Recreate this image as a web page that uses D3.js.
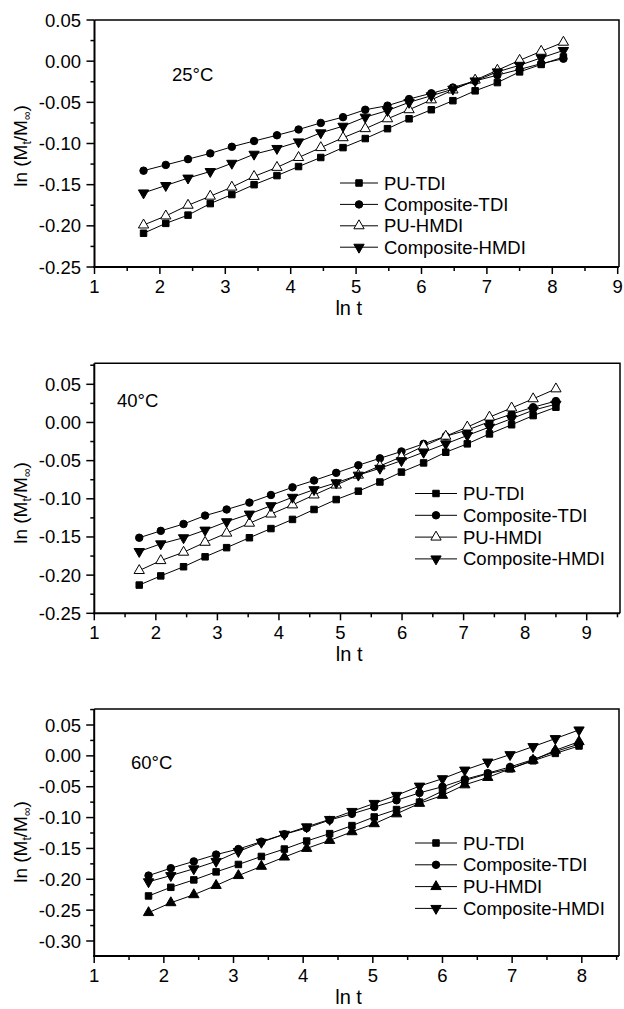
<!DOCTYPE html>
<html>
<head>
<meta charset="utf-8">
<script src="https://cdn.jsdelivr.net/npm/d3@7/dist/d3.min.js"></script>
<style>
  body { margin: 0; background: #fff; }
  text { font-family: "Liberation Sans", Arial, sans-serif; fill: #000; }
</style>
</head>
<body>
<svg id="canvas" width="624" height="1009"></svg>
<script>
// series names and legend order
const seriesNames = ["PU-TDI", "Composite-TDI", "PU-HMDI", "Composite-HMDI"];

// 25°C
const lnT25 = [1.75, 2.09, 2.43, 2.77, 3.10, 3.44, 3.79, 4.12, 4.46, 4.80, 5.14, 5.48, 5.81, 6.15, 6.48, 6.82, 7.16, 7.50, 7.83, 8.17];
const puTdi25 = [-0.209, -0.197, -0.187, -0.173, -0.162, -0.150, -0.139, -0.128, -0.117, -0.105, -0.094, -0.082, -0.070, -0.059, -0.048, -0.036, -0.026, -0.013, -0.004, 0.005];
const compTdi25 = [-0.133, -0.126, -0.119, -0.112, -0.104, -0.097, -0.090, -0.083, -0.075, -0.068, -0.059, -0.054, -0.046, -0.039, -0.032, -0.024, -0.017, -0.010, -0.003, 0.003];
const puHmdi25 = [-0.199, -0.188, -0.175, -0.164, -0.153, -0.140, -0.129, -0.117, -0.105, -0.093, -0.082, -0.070, -0.059, -0.047, -0.035, -0.023, -0.011, 0.001, 0.012, 0.023];
const compHmdi25 = [-0.160, -0.151, -0.142, -0.134, -0.124, -0.113, -0.106, -0.098, -0.087, -0.079, -0.068, -0.060, -0.050, -0.042, -0.034, -0.024, -0.013, -0.005, 0.004, 0.013];

// 40°C
const lnT40 = [1.73, 2.08, 2.45, 2.80, 3.15, 3.52, 3.87, 4.22, 4.57, 4.93, 5.29, 5.64, 5.99, 6.35, 6.71, 7.06, 7.42, 7.78, 8.13, 8.50];
const puTdi40 = [-0.213, -0.201, -0.189, -0.176, -0.164, -0.151, -0.139, -0.127, -0.114, -0.101, -0.090, -0.078, -0.065, -0.053, -0.039, -0.028, -0.015, -0.003, 0.009, 0.020];
const compTdi40 = [-0.151, -0.142, -0.133, -0.122, -0.114, -0.105, -0.095, -0.085, -0.076, -0.066, -0.056, -0.047, -0.038, -0.028, -0.018, -0.010, 0.001, 0.011, 0.020, 0.028];
const puHmdi40 = [-0.194, -0.181, -0.170, -0.157, -0.145, -0.132, -0.120, -0.108, -0.095, -0.082, -0.069, -0.057, -0.045, -0.031, -0.018, -0.006, 0.007, 0.019, 0.031, 0.044];
const compHmdi40 = [-0.169, -0.159, -0.151, -0.141, -0.130, -0.120, -0.109, -0.098, -0.088, -0.079, -0.069, -0.060, -0.050, -0.039, -0.028, -0.017, -0.006, 0.005, 0.016, 0.024];

// 60°C
const lnT60 = [1.78, 2.10, 2.43, 2.75, 3.07, 3.40, 3.73, 4.05, 4.38, 4.70, 5.02, 5.34, 5.67, 6.00, 6.32, 6.65, 6.97, 7.30, 7.62, 7.96];
const puTdi60 = [-0.227, -0.213, -0.201, -0.188, -0.176, -0.163, -0.151, -0.138, -0.126, -0.113, -0.099, -0.087, -0.075, -0.057, -0.040, -0.029, -0.021, -0.008, 0.004, 0.016];
const compTdi60 = [-0.194, -0.182, -0.171, -0.160, -0.151, -0.139, -0.127, -0.117, -0.104, -0.094, -0.083, -0.072, -0.060, -0.050, -0.038, -0.028, -0.018, -0.006, 0.007, 0.019];
const puHmdi60 = [-0.254, -0.238, -0.225, -0.210, -0.194, -0.179, -0.164, -0.150, -0.137, -0.123, -0.110, -0.094, -0.077, -0.064, -0.047, -0.035, -0.021, -0.007, 0.009, 0.023];
const compHmdi60 = [-0.204, -0.194, -0.183, -0.171, -0.155, -0.140, -0.127, -0.115, -0.103, -0.090, -0.077, -0.064, -0.049, -0.037, -0.023, -0.010, 0.002, 0.015, 0.028, 0.042];

// tick labels
const xTicks25 = [1, 2, 3, 4, 5, 6, 7, 8, 9];
const xTicks40 = [1, 2, 3, 4, 5, 6, 7, 8, 9];
const xTicks60 = [1, 2, 3, 4, 5, 6, 7, 8];
const yTicks25 = [-0.25, -0.20, -0.15, -0.10, -0.05, 0.00, 0.05];
const yTicks40 = [-0.25, -0.20, -0.15, -0.10, -0.05, 0.00, 0.05];
const yTicks60 = [-0.30, -0.25, -0.20, -0.15, -0.10, -0.05, 0.00, 0.05];

let canvas = d3.select("#canvas");

const symbolSquare = d3.symbol().type(d3.symbolSquare).size(42);
const symbolCircle = d3.symbol().type(d3.symbolCircle).size(44);
const symbolTri = d3.symbol().type(d3.symbolTriangle).size(46);

// marker style per series; openTri = hollow up-triangle
const markerFor = (idx, openTri) => {
  if (idx == 0) return { path: symbolSquare(), rot: 0, fill: "#000" };
  if (idx == 1) return { path: symbolCircle(), rot: 0, fill: "#000" };
  if (idx == 2) return { path: symbolTri(), rot: 0, fill: openTri ? "#fff" : "#000" };
  return { path: symbolTri(), rot: 180, fill: "#000" };
};

const panels = [
  {
    label: "25°C", labelX: 172, labelY: 81,
    x: lnT25, ys: [puTdi25, compTdi25, puHmdi25, compHmdi25],
    xDomain: [1, 9], xRange: [94.5, 617.7], right: 619,
    yDomain: [-0.25, 0.05], yRange: [267, 20],
    xTicks: xTicks25, yTicks: yTicks25, openTri: true,
    legendX: 340, legendW: 38, legendY: 183, legendStep: 21.4,
    yTitleY: 146
  },
  {
    label: "40°C", labelX: 117, labelY: 407,
    x: lnT40, ys: [puTdi40, compTdi40, puHmdi40, compHmdi40],
    xDomain: [1, 9], xRange: [94.3, 586.7], right: 620,
    yDomain: [-0.25, 0.05], yRange: [613.3, 384.3], top: 363.3,
    xTicks: xTicks40, yTicks: yTicks40, openTri: true,
    legendX: 415, legendW: 42, legendY: 493.5, legendStep: 21.8,
    yTitleY: 503
  },
  {
    label: "60°C", labelX: 131, labelY: 769,
    x: lnT60, ys: [puTdi60, compTdi60, puHmdi60, compHmdi60],
    xDomain: [1, 8], xRange: [94.2, 581.8], right: 619,
    yDomain: [-0.30, 0.05], yRange: [941, 725], top: 709, bottom: 956,
    xTicks: xTicks60, yTicks: yTicks60, openTri: false,
    legendX: 415, legendW: 42, legendY: 843, legendStep: 21.8,
    yTitleY: 842
  }
];

const fmt = (d) => (Math.abs(d) < 1e-9 ? 0 : d).toFixed(2);

panels.forEach((p) => {
  const x = d3.scaleLinear().domain(p.xDomain).range(p.xRange);
  const y = d3.scaleLinear().domain(p.yDomain).range(p.yRange);
  const left = x(p.xDomain[0]);
  const top = p.top != null ? p.top : y(p.yDomain[1]);
  const bottom = p.bottom != null ? p.bottom : y(p.yDomain[0]);
  const xMax = x.invert(p.right);
  const yMin = y.invert(bottom);
  const yMax = y.invert(top);

  let g = canvas.append("g");

  // frame (top + right)
  g.append("path")
    .attr("d", `M${left},${top}H${p.right}V${bottom}`)
    .attr("fill", "none")
    .attr("stroke", "#000")
    .attr("stroke-width", 1.5);

  // minor ticks
  const xMinor = d3.range(p.xDomain[0] + 0.5, xMax + 1e-6, 1);
  const yMinor = d3.range(-0.375, yMax + 1e-6, 0.05).filter((v) => v > yMin);
  g.selectAll(".xminor").data(xMinor).enter().append("line")
    .attr("x1", (d) => x(d)).attr("x2", (d) => x(d))
    .attr("y1", bottom).attr("y2", bottom + 4)
    .attr("stroke", "#000").attr("stroke-width", 1.5);
  g.selectAll(".yminor").data(yMinor).enter().append("line")
    .attr("y1", (d) => y(d)).attr("y2", (d) => y(d))
    .attr("x1", left).attr("x2", left - 4)
    .attr("stroke", "#000").attr("stroke-width", 1.5);

  // major ticks + labels
  g.selectAll(".xmajor").data(p.xTicks).enter().append("line")
    .attr("x1", (d) => x(d)).attr("x2", (d) => x(d))
    .attr("y1", bottom).attr("y2", bottom + 7)
    .attr("stroke", "#000").attr("stroke-width", 1.5);
  g.selectAll(".xlab").data(p.xTicks).enter().append("text")
    .attr("x", (d) => x(d)).attr("y", bottom + 26)
    .attr("text-anchor", "middle")
    .style("font-size", "18.5px")
    .text((d) => d);
  g.selectAll(".ymajor").data(p.yTicks).enter().append("line")
    .attr("y1", (d) => y(d)).attr("y2", (d) => y(d))
    .attr("x1", left).attr("x2", left - 8)
    .attr("stroke", "#000").attr("stroke-width", 1.5);
  g.selectAll(".ylab").data(p.yTicks).enter().append("text")
    .attr("x", 81).attr("y", (d) => y(d) + 6.5)
    .attr("text-anchor", "end")
    .style("font-size", "18.5px")
    .text(fmt);

  // axis lines
  g.append("line").attr("x1", left).attr("x2", left).attr("y1", top).attr("y2", bottom + 1)
    .attr("stroke", "#000").attr("stroke-width", 2);
  g.append("line").attr("x1", left - 1).attr("x2", p.right).attr("y1", bottom).attr("y2", bottom)
    .attr("stroke", "#000").attr("stroke-width", 2);

  // axis titles
  g.append("text")
    .attr("x", (left + p.right) / 2 - 8).attr("y", bottom + 48)
    .attr("text-anchor", "middle")
    .style("font-size", "20px")
    .text("ln t");

  const yt = g.append("text")
    .attr("transform", `translate(27,${p.yTitleY}) rotate(-90)`)
    .attr("text-anchor", "middle")
    .style("font-size", "19px");
  yt.append("tspan").text("ln (M");
  yt.append("tspan").attr("dy", 4).style("font-size", "12px").text("t");
  yt.append("tspan").attr("dy", -4).text("/M");
  yt.append("tspan").attr("dy", 4).style("font-size", "12px").text("∞");
  yt.append("tspan").attr("dy", -4).text(")");

  // temperature label
  g.append("text")
    .attr("x", p.labelX).attr("y", p.labelY)
    .style("font-size", "18.5px")
    .text(p.label);

  // series
  const line = d3.line().x((d) => x(d[0])).y((d) => y(d[1]));
  p.ys.forEach((vals, idx) => {
    const pts = p.x.map((v, i) => [v, vals[i]]);
    g.append("path")
      .attr("d", line(pts))
      .attr("fill", "none")
      .attr("stroke", "#000")
      .attr("stroke-width", 1);
    const m = markerFor(idx, p.openTri);
    g.selectAll(".pt" + idx).data(pts).enter().append("path")
      .attr("d", m.path)
      .attr("transform", (d) => `translate(${x(d[0])},${y(d[1])}) rotate(${m.rot})`)
      .attr("fill", m.fill)
      .attr("stroke", "#000")
      .attr("stroke-width", 1);
  });

  // legend
  seriesNames.forEach((name, idx) => {
    const ly = p.legendY + idx * p.legendStep;
    g.append("line")
      .attr("x1", p.legendX).attr("x2", p.legendX + p.legendW)
      .attr("y1", ly).attr("y2", ly)
      .attr("stroke", "#000").attr("stroke-width", 1);
    const m = markerFor(idx, p.openTri);
    g.append("path")
      .attr("d", m.path)
      .attr("transform", `translate(${p.legendX + p.legendW / 2},${ly}) rotate(${m.rot})`)
      .attr("fill", m.fill)
      .attr("stroke", "#000")
      .attr("stroke-width", 1);
    g.append("text")
      .attr("x", p.legendX + p.legendW + 6).attr("y", ly + 6.5)
      .style("font-size", "18.5px")
      .text(name);
  });
});
</script>
</body>
</html>
